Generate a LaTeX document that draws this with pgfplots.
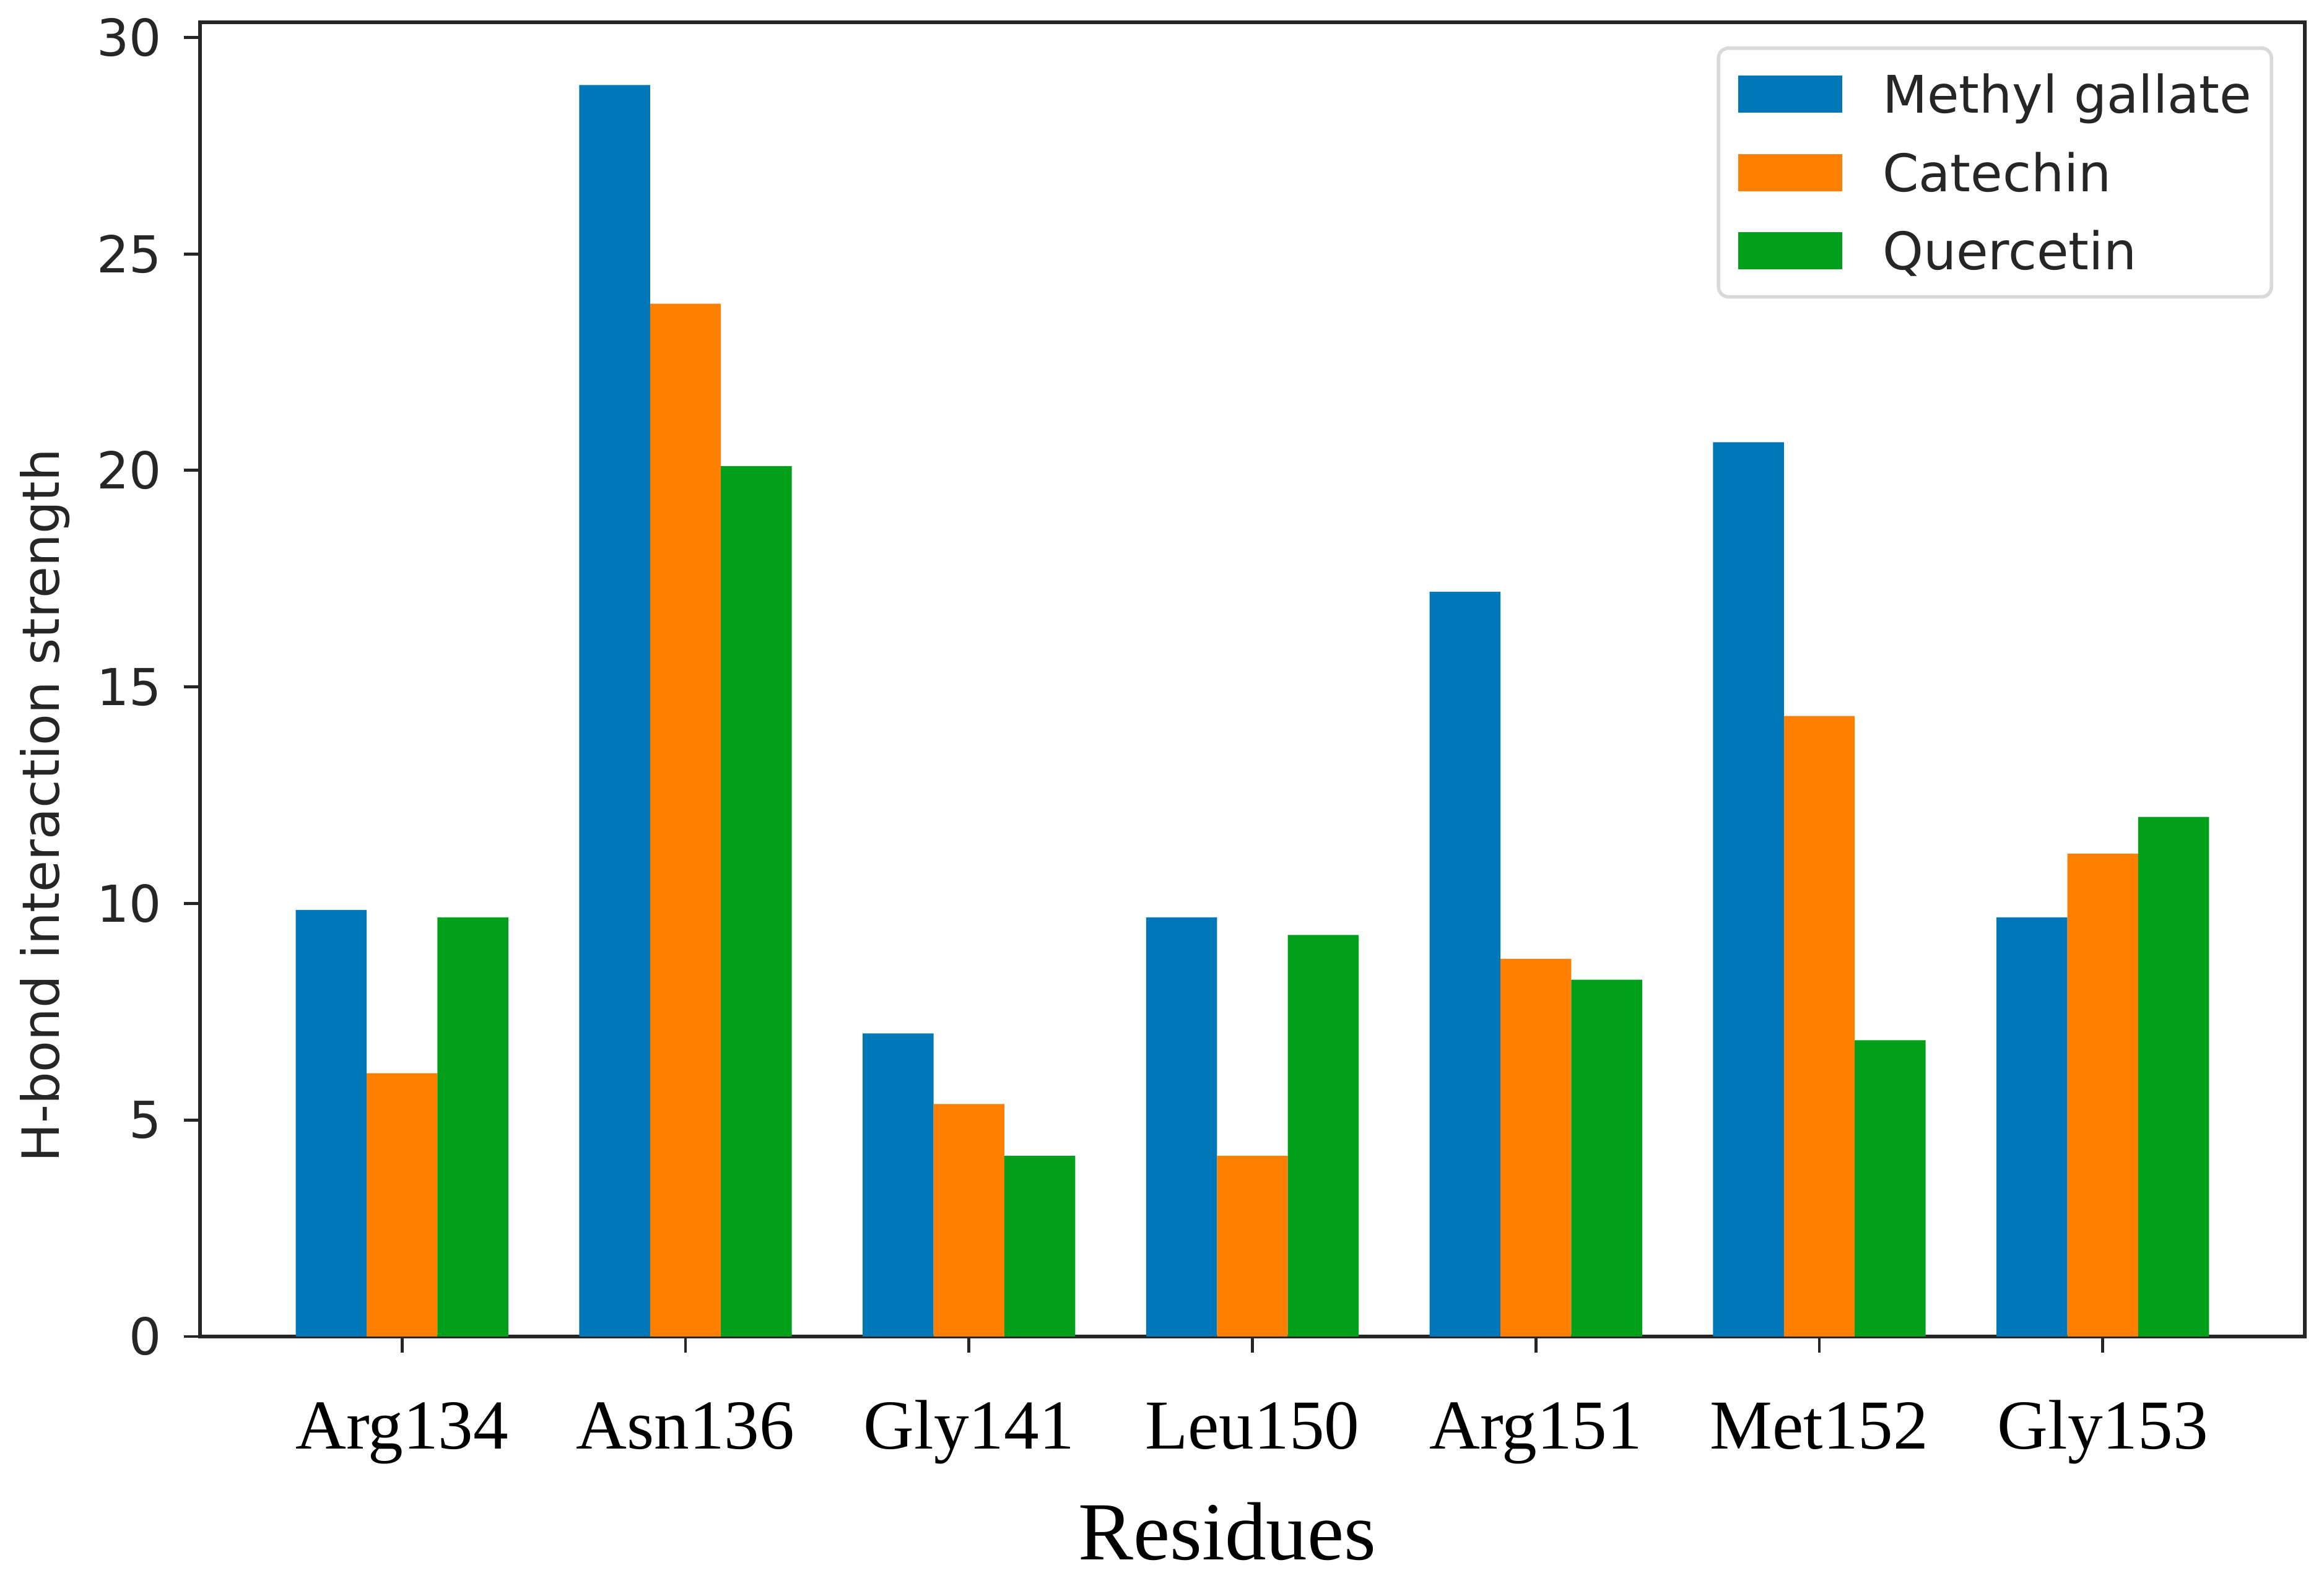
\documentclass[border=0pt]{standalone}
\usepackage{fontspec}
\usepackage{pgfplots}
\pgfplotsset{compat=1.18}
\newfontfamily\dejavu{DejaVu Sans}
\newfontfamily\lserif{Liberation Serif}
\definecolor{cblue}{RGB}{0,119,184}
\definecolor{corange}{RGB}{255,127,0}
\definecolor{cgreen}{RGB}{0,160,26}
\pgfplotsset{sqlegend/.style={legend image code/.code={\fill[##1,draw=none,sharp corners] (0pt,-3.75pt) rectangle (21pt,3.75pt);}}}
\begin{document}
\begin{tikzpicture}
\begin{axis}[
  scale only axis, width=426pt, height=266.1pt,
  ybar, bar width=0.25,
  xmin=-0.7125, xmax=6.7125, ymin=0, ymax=30.35,
  xtick={0,...,6},
  xticklabels={Arg134,Asn136,Gly141,Leu150,Arg151,Met152,Gly153},
  ytick={0,5,...,30},
  axis line style={line width=0.8pt, black!85},
  tick style={line width=0.6pt, black!85},
  tick align=outside, major tick length=3.3pt,
  xtick pos=left, ytick pos=left,
  /pgf/number format/assume math mode=true,
  yticklabel style={font=\dejavu\fontsize{10.3}{12}\selectfont, text=black!85, inner sep=0pt, anchor=east, xshift=-4.3pt},
  xticklabel style={font=\lserif\fontsize{14.2}{16}\selectfont, inner sep=0pt, anchor=base, yshift=-19.5pt},
  xlabel={Residues},
  xlabel style={font=\lserif\fontsize{16.7}{19}\selectfont, at={(axis description cs:0.488,-0.170)}, anchor=base, inner sep=0pt},
  ylabel={H-bond interaction strength},
  ylabel style={font=\dejavu\fontsize{10.4}{12}\selectfont, text=black!85, at={(axis description cs:-0.0669,0.404)}, anchor=base, inner sep=0pt},
  legend style={at={(axis description cs:0.98498,0.98159)}, anchor=north east,
    draw=black!15, line width=0.7pt, rounded corners=2pt,
    inner xsep=4pt, inner ysep=5.5pt, row sep=8.2pt,
    font=\dejavu\fontsize{10.5}{12}\selectfont, text=black!85,
    nodes={inner sep=0pt, text height=7.65pt, text depth=0pt},
    /tikz/every odd column/.append style={column sep=8.2pt}},
  legend cell align=left,
]
\addplot[fill=cblue, draw=none, bar shift=-0.25, sqlegend]
  coordinates {(0,9.85) (1,28.9) (2,7.0) (3,9.68) (4,17.2) (5,20.65) (6,9.68)};
\addplot[fill=corange, draw=none, bar shift=0, sqlegend]
  coordinates {(0,6.08) (1,23.85) (2,5.37) (3,4.17) (4,8.72) (5,14.33) (6,11.15)};
\addplot[fill=cgreen, draw=none, bar shift=0.25, sqlegend]
  coordinates {(0,9.68) (1,20.1) (2,4.17) (3,9.27) (4,8.24) (5,6.84) (6,12.0)};
\legend{Methyl gallate,Catechin,Quercetin}
\coordinate (sw) at (rel axis cs:0,0);
\coordinate (ne) at (rel axis cs:1,1);
\end{axis}
\pgfresetboundingbox
\path ([shift={(-40.5pt,-50.4pt)}]sw) rectangle ([shift={(3.9pt,4.5pt)}]ne);
\end{tikzpicture}
\end{document}
